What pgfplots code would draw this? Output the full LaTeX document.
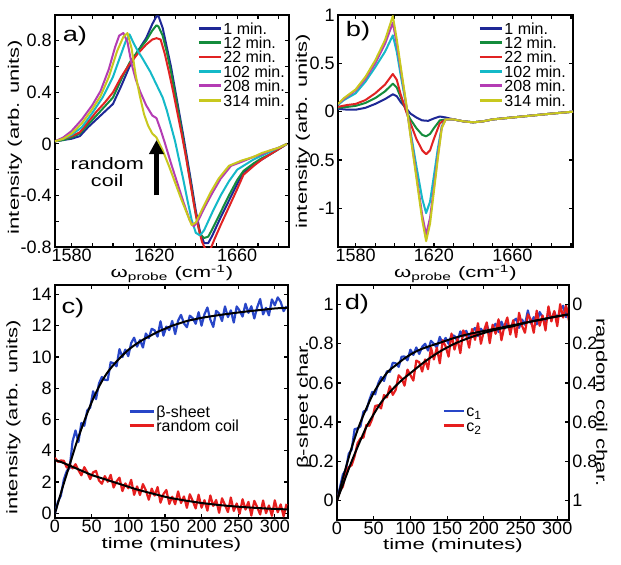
\documentclass[border=0pt]{standalone}
\usepackage{fontspec}
\setmainfont{Liberation Sans}
\newfontfamily\wfont[FakeStretch=1.45]{Liberation Sans}
\newfontfamily\pfont[FakeStretch=1.3]{Liberation Sans}
\usepackage{pgfplots}
\pgfplotsset{compat=1.18}
\usetikzlibrary{arrows.meta}
\definecolor{cB}{RGB}{30,40,150}
\definecolor{cG}{RGB}{20,140,60}
\definecolor{cR}{RGB}{225,35,35}
\definecolor{cC}{RGB}{20,185,200}
\definecolor{cM}{RGB}{180,60,180}
\definecolor{cY}{RGB}{200,200,30}
\definecolor{nB}{RGB}{40,70,200}
\definecolor{nR}{RGB}{230,30,30}
\pgfplotsset{
  myaxis/.style={
    scale only axis, anchor=south west,
    axis line style={line width=0.9pt},
    tick style={line width=0.6pt, black},
    major tick length=2.2pt, minor tick length=2.2pt,
    tick align=inside,
    /pgf/number format/assume math mode=true,
    /pgf/number format/set thousands separator={},
    tick label style={font=\fontsize{9}{9}\selectfont},
    label style={font=\wfont\fontsize{7.6}{8}\selectfont},
    xticklabel style={inner sep=1pt},
    yticklabel style={inner sep=1.5pt},
    legend cell align=left,
    legend style={draw=none, fill=none, anchor=north west, inner sep=0pt, row sep=0.2pt,
      nodes={inner sep=0.6pt, text height=5.8pt, text depth=0pt}, font=\fontsize{8}{8}\selectfont},
    every axis plot/.append style={line width=1pt, line join=round},
  },
  lim/.style={legend image code/.code={\draw[##1, line width=1.4pt] (0pt,0pt) -- (#1,0pt);}},
}
\begin{document}
\begin{tikzpicture}
\path[use as bounding box, fill=white] (0,0) rectangle (310.5pt,282pt);
% ---------------- a ----------------
\begin{axis}[myaxis, at={(27.5pt,158.5pt)}, width=117pt, height=116pt,
  xmin=1572, xmax=1685, ymin=-0.8, ymax=1.0,
  xtick={1580,1620,1660}, minor xtick={1590,1600,1610,1630,1640,1650,1670,1680},
  ytick={-0.8,-0.4,0,0.4,0.8}, minor ytick={-0.6,-0.2,0.2,0.6},
  xlabel={ω\textsubscript{probe} (cm\textsuperscript{-1})},
  ylabel={intensity (arb. units)},
  xlabel style={at={(axis description cs:0.5,-0.115)},anchor=center},
  ylabel style={at={(axis description cs:-0.171,0.474)},anchor=center},
  legend style={at={(axis description cs:0.607,0.975)}}, lim=11pt]
\addplot[cB] coordinates {(1572,0.02)(1576,0.03)(1580,0.04)(1584,0.06)(1588,0.13)(1592,0.19)(1596,0.25)(1600,0.31)(1604,0.45)(1608,0.6)(1612,0.72)(1616,0.82)(1619,0.93)(1621,0.99)(1622,0.99)(1624,0.9)(1626,0.75)(1628,0.6)(1630,0.42)(1632,0.24)(1634,0.06)(1636,-0.13)(1638,-0.32)(1640,-0.52)(1642,-0.68)(1644,-0.77)(1646,-0.77)(1648,-0.71)(1652,-0.57)(1656,-0.44)(1660,-0.31)(1663,-0.22)(1668,-0.16)(1672,-0.12)(1676,-0.08)(1680,-0.04)(1684,0)};
\addplot[cG] coordinates {(1572,0.02)(1576,0.03)(1580,0.05)(1584,0.08)(1588,0.15)(1592,0.22)(1596,0.29)(1600,0.36)(1604,0.5)(1608,0.63)(1612,0.72)(1616,0.8)(1619,0.88)(1621,0.92)(1622,0.91)(1624,0.84)(1626,0.71)(1628,0.56)(1630,0.39)(1632,0.21)(1634,0.03)(1636,-0.16)(1638,-0.35)(1640,-0.55)(1642,-0.7)(1644,-0.73)(1646,-0.72)(1648,-0.66)(1652,-0.53)(1656,-0.4)(1660,-0.28)(1663,-0.21)(1668,-0.15)(1672,-0.11)(1676,-0.08)(1680,-0.04)(1684,0)};
\addplot[cR] coordinates {(1572,0.02)(1576,0.04)(1580,0.06)(1584,0.09)(1588,0.17)(1592,0.25)(1596,0.32)(1600,0.4)(1604,0.52)(1608,0.62)(1612,0.7)(1616,0.77)(1619,0.81)(1621,0.82)(1623,0.81)(1625,0.7)(1627,0.56)(1629,0.41)(1631,0.25)(1633,0.09)(1635,-0.08)(1637,-0.27)(1639,-0.46)(1641,-0.63)(1643,-0.76)(1645,-0.83)(1647,-0.82)(1649,-0.74)(1652,-0.63)(1656,-0.49)(1660,-0.35)(1663,-0.24)(1668,-0.17)(1672,-0.12)(1676,-0.08)(1680,-0.04)(1684,0)};
\addplot[cC] coordinates {(1572,0.02)(1576,0.04)(1580,0.07)(1585,0.13)(1590,0.24)(1595,0.36)(1600,0.52)(1604,0.7)(1606,0.79)(1608,0.85)(1610,0.78)(1612,0.72)(1614,0.67)(1618,0.56)(1621,0.46)(1624,0.36)(1626,0.26)(1628,0.14)(1630,0.02)(1632,-0.13)(1634,-0.28)(1636,-0.44)(1638,-0.59)(1640,-0.69)(1642,-0.71)(1644,-0.67)(1648,-0.53)(1652,-0.4)(1656,-0.29)(1660,-0.2)(1664,-0.16)(1668,-0.12)(1672,-0.09)(1676,-0.06)(1680,-0.03)(1684,0)};
\addplot[cM] coordinates {(1572,0.02)(1576,0.05)(1580,0.1)(1585,0.19)(1590,0.3)(1594,0.41)(1598,0.58)(1601,0.75)(1603,0.84)(1605,0.86)(1607,0.79)(1609,0.62)(1611,0.5)(1613,0.41)(1616,0.3)(1619,0.22)(1621,0.2)(1623,0.11)(1625,0.01)(1628,-0.15)(1631,-0.3)(1634,-0.45)(1637,-0.59)(1639,-0.64)(1641,-0.6)(1644,-0.5)(1648,-0.38)(1652,-0.27)(1657,-0.17)(1662,-0.14)(1668,-0.1)(1672,-0.08)(1676,-0.05)(1680,-0.03)(1684,0)};
\addplot[cY] coordinates {(1572,0.02)(1576,0.04)(1580,0.08)(1585,0.16)(1590,0.27)(1594,0.37)(1598,0.52)(1602,0.72)(1605,0.83)(1607,0.86)(1609,0.74)(1611,0.53)(1613,0.37)(1615,0.23)(1617,0.14)(1619,0.08)(1621,0.05)(1624,-0.05)(1627,-0.17)(1630,-0.3)(1633,-0.43)(1636,-0.55)(1638,-0.63)(1640,-0.61)(1643,-0.51)(1647,-0.38)(1651,-0.27)(1656,-0.17)(1662,-0.13)(1668,-0.1)(1672,-0.07)(1676,-0.05)(1680,-0.03)(1684,0)};
\legend{1 min.,12 min.,22 min.,102 min.,208 min.,314 min.}
\node[font=\pfont\fontsize{10.5}{10}\selectfont] at (axis description cs:0.085,0.91) {a)};
\node[font=\pfont\fontsize{8.3}{8.5}\selectfont, align=center] at (axis cs:1597.2,-0.22) {random\\coil};
\draw[line width=2.2pt, -{Triangle[length=7pt,width=7pt]}] (axis cs:1621,-0.4) -- (axis cs:1621,0.03);
\end{axis}
% ---------------- b ----------------
\begin{axis}[myaxis, at={(169pt,158.5pt)}, width=117.5pt, height=116pt,
  xmin=1571, xmax=1691, ymin=-1.4, ymax=1.0,
  xtick={1580,1620,1660}, minor xtick={1590,1600,1610,1630,1640,1650,1670,1680,1690},
  ytick={-1,-0.5,0,0.5,1},
  xlabel={ω\textsubscript{probe} (cm\textsuperscript{-1})},
  ylabel={intensity (arb. units)},
  xlabel style={at={(axis description cs:0.5,-0.115)},anchor=center},
  ylabel style={at={(axis description cs:-0.149,0.5)},anchor=center},
  legend style={at={(axis description cs:0.596,0.975)}}, lim=11pt]
\addplot[cB] coordinates {(1571,0.03)(1576,0.02)(1580,0.02)(1585,0.04)(1590,0.08)(1595,0.13)(1599,0.18)(1601,0.16)(1603,0.1)(1606,0.03)(1608,-0.02)(1611,-0.06)(1614,-0.09)(1617,-0.095)(1620,-0.07)(1623,-0.05)(1626,-0.06)(1630,-0.08)(1635,-0.1)(1640,-0.11)(1645,-0.1)(1650,-0.08)(1660,-0.06)(1670,-0.04)(1680,-0.02)(1691,0)};
\addplot[cG] coordinates {(1571,0.04)(1576,0.05)(1580,0.06)(1585,0.09)(1590,0.14)(1595,0.21)(1599,0.29)(1601,0.25)(1603,0.15)(1606,0.0)(1608,-0.08)(1611,-0.17)(1614,-0.24)(1616,-0.255)(1618,-0.23)(1620,-0.17)(1623,-0.09)(1626,-0.08)(1630,-0.08)(1635,-0.1)(1640,-0.11)(1645,-0.1)(1650,-0.08)(1660,-0.06)(1670,-0.04)(1680,-0.02)(1691,0)};
\addplot[cR] coordinates {(1571,0.05)(1576,0.07)(1580,0.08)(1585,0.12)(1590,0.19)(1595,0.28)(1599,0.39)(1601,0.33)(1603,0.18)(1606,-0.01)(1608,-0.12)(1611,-0.28)(1614,-0.4)(1616,-0.44)(1618,-0.4)(1620,-0.28)(1623,-0.12)(1626,-0.08)(1630,-0.08)(1635,-0.1)(1640,-0.11)(1645,-0.1)(1650,-0.08)(1660,-0.06)(1670,-0.04)(1680,-0.02)(1691,0)};
\addplot[cC] coordinates {(1571,0.07)(1574,0.12)(1580,0.19)(1585,0.31)(1590,0.46)(1595,0.62)(1599,0.79)(1601,0.62)(1603,0.38)(1606,0.04)(1608,-0.2)(1611,-0.56)(1614,-0.9)(1616,-1.05)(1618,-0.93)(1620,-0.66)(1622,-0.38)(1624,-0.15)(1626,-0.08)(1630,-0.08)(1635,-0.1)(1640,-0.11)(1645,-0.1)(1650,-0.08)(1660,-0.06)(1670,-0.04)(1680,-0.02)(1691,0)};
\addplot[cM] coordinates {(1571,0.08)(1574,0.13)(1580,0.22)(1585,0.34)(1590,0.5)(1595,0.7)(1599,0.92)(1601,0.7)(1603,0.44)(1606,0.05)(1608,-0.23)(1611,-0.65)(1614,-1.07)(1616,-1.27)(1618,-1.1)(1620,-0.78)(1622,-0.45)(1624,-0.16)(1626,-0.08)(1630,-0.08)(1635,-0.1)(1640,-0.11)(1645,-0.1)(1650,-0.08)(1660,-0.06)(1670,-0.04)(1680,-0.02)(1691,0)};
\addplot[cY] coordinates {(1571,0.08)(1574,0.14)(1580,0.23)(1585,0.36)(1590,0.53)(1595,0.74)(1599,0.99)(1601,0.75)(1603,0.47)(1606,0.06)(1608,-0.25)(1611,-0.68)(1614,-1.12)(1616,-1.34)(1618,-1.16)(1620,-0.82)(1622,-0.48)(1624,-0.17)(1626,-0.08)(1630,-0.08)(1635,-0.1)(1640,-0.11)(1645,-0.1)(1650,-0.08)(1660,-0.06)(1670,-0.04)(1680,-0.02)(1691,0)};
\legend{1 min.,12 min.,22 min.,102 min.,208 min.,314 min.}
\node[font=\pfont\fontsize{10.5}{10}\selectfont] at (axis description cs:0.085,0.93) {b)};
\end{axis}
% ---------------- c ----------------
\begin{axis}[myaxis, at={(27.5pt,23pt)}, width=116.5pt, height=116.5pt,
  xmin=0, xmax=318, ymin=-0.3, ymax=14.6,
  xtick={0,50,100,150,200,250,300}, ytick={0,2,4,6,8,10,12,14},
  xlabel={time (minutes)}, ylabel={intensity (arb. units)},
  xlabel style={at={(axis description cs:0.5,-0.112)},anchor=center},
  ylabel style={at={(axis description cs:-0.178,0.433)},anchor=center},
  legend style={at={(axis description cs:0.313,0.49)}}, lim=12pt]
\addplot[nB, line width=1.1pt] coordinates {(0,0)(4,0.74)(8,1.13)(12,2.15)(16,2.7)(20,2.9)(24,4.6)(28,5.3)(32,4.56)(36,5.78)(40,5.6)(44,6.58)(48,6.76)(52,7.8)(56,7.3)(60,8.3)(64,8.72)(68,8.54)(72,8.52)(76,9.66)(80,9.6)(84,9.4)(88,10.5)(92,9.99)(96,10.47)(100,10.05)(104,10.89)(108,11.23)(112,10.66)(116,11.08)(120,10.6)(124,11.5)(128,11.2)(132,11.8)(136,11.7)(140,11.3)(144,12.28)(148,11.36)(152,11.94)(156,11.72)(160,12.3)(164,11.46)(168,12.32)(172,12.69)(176,12.14)(180,11.9)(184,12.64)(188,12.48)(192,12.12)(196,12.86)(200,12.0)(204,12.73)(208,13.16)(212,12.39)(216,11.92)(220,12.95)(224,12.78)(228,12.3)(232,13.23)(236,12.55)(240,12.98)(244,12.2)(248,13.23)(252,12.95)(256,12.58)(260,13.4)(264,12.82)(268,13.24)(272,12.46)(276,13.18)(280,13.7)(284,12.72)(288,13.14)(292,12.66)(296,13.68)(300,13.3)(304,13.81)(308,13.52)(312,12.93)(316,13.24)};
\addplot[nR, line width=1.1pt] coordinates {(0,3.55)(4,3.29)(8,3.38)(12,3.36)(16,2.93)(20,3.15)(24,2.87)(28,3.14)(32,2.76)(36,2.43)(40,2.95)(44,2.62)(48,2.19)(52,2.62)(56,2.71)(60,2.1)(64,1.89)(68,2.38)(72,2.02)(76,2.46)(80,1.65)(84,2.04)(88,2.28)(92,1.42)(96,1.91)(100,1.6)(104,2.14)(108,1.18)(112,1.72)(116,1.17)(120,1.87)(124,1.47)(128,0.87)(132,1.58)(136,1.13)(140,1.68)(144,0.68)(148,1.23)(152,1.49)(156,0.6)(160,1.06)(164,0.58)(168,1.4)(172,0.66)(176,1.08)(180,0.35)(184,1.22)(188,0.79)(192,0.31)(196,1.19)(200,0.36)(204,0.84)(208,0.17)(212,1.14)(216,0.47)(220,0.85)(224,0.03)(228,0.96)(232,0.54)(236,0.08)(240,1.01)(244,0.15)(248,0.63)(252,-0.03)(256,0.9)(260,0.24)(264,0.73)(268,-0.14)(272,0.8)(276,0.39)(280,-0.07)(284,0.82)(288,0.01)(292,0.5)(296,-0.16)(300,0.83)(304,0.07)(308,0.57)(312,-0.19)(316,0.6)};
\addplot[black, smooth, forget plot] coordinates {(0,0)(10,1.6)(20,3.1)(30,4.6)(40,5.9)(50,7.1)(60,8.1)(70,8.9)(80,9.5)(90,10.0)(100,10.45)(110,10.8)(120,11.1)(130,11.35)(140,11.6)(150,11.8)(160,12.0)(170,12.15)(180,12.3)(190,12.4)(200,12.5)(220,12.65)(240,12.78)(260,12.9)(280,13.0)(300,13.1)(318,13.15)};
\addplot[black, smooth, forget plot] coordinates {(0,3.4)(10,3.25)(20,3.05)(30,2.85)(40,2.65)(50,2.45)(60,2.3)(70,2.15)(80,2.0)(90,1.85)(100,1.7)(110,1.55)(120,1.42)(130,1.3)(140,1.18)(150,1.06)(160,0.96)(170,0.88)(180,0.8)(190,0.73)(200,0.66)(220,0.55)(240,0.46)(260,0.39)(280,0.33)(300,0.28)(318,0.25)};
\legend{β-sheet,random coil}
\node[font=\pfont\fontsize{10.5}{10}\selectfont] at (axis description cs:0.077,0.90) {c)};
\end{axis}
% ---------------- d ----------------
\begin{axis}[myaxis, at={(168.5pt,22pt)}, width=116pt, height=117.5pt,
  xmin=0, xmax=316, ymin=-0.1, ymax=1.1, ytick pos=left,
  xtick={0,50,100,150,200,250,300}, ytick={0,0.2,0.4,0.6,0.8,1},
  xlabel={time (minutes)}, ylabel={β-sheet char.},
  xlabel style={at={(axis description cs:0.5,-0.108)},anchor=center},
  ylabel style={at={(axis description cs:-0.142,0.49)},anchor=center},
  legend style={at={(axis description cs:0.453,0.495)}}, lim=10pt]
\addplot[nB, line width=1.1pt] coordinates {(0,0)(4,0.066)(8,0.132)(12,0.156)(16,0.238)(20,0.26)(24,0.364)(28,0.368)(32,0.378)(36,0.454)(40,0.46)(44,0.512)(48,0.554)(52,0.542)(56,0.596)(60,0.63)(64,0.61)(68,0.66)(72,0.656)(76,0.703)(80,0.70)(84,0.682)(88,0.734)(92,0.735)(96,0.715)(100,0.77)(104,0.743)(108,0.781)(112,0.748)(116,0.784)(120,0.80)(124,0.765)(128,0.815)(132,0.80)(136,0.78)(140,0.835)(144,0.80)(148,0.83)(152,0.80)(156,0.845)(160,0.84)(164,0.814)(168,0.863)(172,0.837)(176,0.866)(180,0.83)(184,0.863)(188,0.881)(192,0.839)(196,0.877)(200,0.855)(204,0.898)(208,0.851)(212,0.884)(216,0.902)(220,0.86)(224,0.913)(228,0.876)(232,0.904)(236,0.867)(240,0.915)(244,0.928)(248,0.881)(252,0.924)(256,0.897)(260,0.97)(264,0.903)(268,0.936)(272,0.899)(276,0.962)(280,0.935)(284,0.908)(288,0.961)(292,0.924)(296,0.962)(300,0.925)(304,0.972)(308,0.994)(312,0.936)(316,0.988)};
\addplot[nR, line width=1.1pt] coordinates {(0,0)(4,0.05)(8,0.07)(12,0.14)(16,0.17)(20,0.18)(24,0.226)(28,0.292)(32,0.317)(36,0.321)(40,0.385)(44,0.381)(48,0.417)(52,0.482)(56,0.486)(60,0.47)(64,0.538)(68,0.526)(72,0.583)(76,0.539)(80,0.565)(84,0.639)(88,0.623)(92,0.586)(96,0.668)(100,0.64)(104,0.612)(108,0.714)(112,0.706)(116,0.658)(120,0.72)(124,0.67)(128,0.78)(132,0.72)(136,0.78)(140,0.70)(144,0.818)(148,0.786)(152,0.734)(156,0.852)(160,0.77)(164,0.826)(168,0.752)(172,0.868)(176,0.844)(180,0.78)(184,0.875)(188,0.82)(192,0.905)(196,0.80)(200,0.865)(204,0.909)(208,0.803)(212,0.897)(216,0.851)(220,0.925)(224,0.818)(228,0.891)(232,0.934)(236,0.847)(240,0.92)(244,0.834)(248,0.958)(252,0.892)(256,0.856)(260,0.95)(264,0.923)(268,0.856)(272,0.969)(276,0.892)(280,0.945)(284,0.868)(288,0.991)(292,0.914)(296,0.967)(300,0.89)(304,1.002)(308,0.934)(312,0.996)(316,0.918)};
\addplot[black, smooth, forget plot] coordinates {(0,0)(10,0.14)(20,0.27)(30,0.38)(40,0.47)(50,0.55)(60,0.61)(70,0.66)(80,0.69)(90,0.72)(100,0.745)(110,0.765)(120,0.78)(140,0.805)(160,0.83)(180,0.85)(200,0.865)(220,0.88)(240,0.895)(260,0.91)(280,0.925)(300,0.94)(316,0.95)};
\addplot[black, smooth, forget plot] coordinates {(0,0)(10,0.1)(20,0.2)(30,0.29)(40,0.375)(50,0.44)(60,0.5)(70,0.545)(80,0.585)(90,0.62)(100,0.65)(120,0.71)(140,0.76)(160,0.8)(180,0.83)(200,0.855)(220,0.875)(240,0.89)(260,0.91)(280,0.925)(300,0.94)(316,0.95)};
\legend{c\textsubscript{1},c\textsubscript{2}}
\node[font=\pfont\fontsize{10.5}{10}\selectfont] at (axis description cs:0.086,0.92) {d)};
\end{axis}
\begin{axis}[myaxis, at={(168.5pt,22pt)}, width=116pt, height=117.5pt,
  xmin=0, xmax=316, ymin=-0.1, ymax=1.1, y dir=reverse,
  axis x line=none, axis y line*=right, tick align=inside,
  ytick={0,0.2,0.4,0.6,0.8,1},
  ylabel={random coil char.},
  ylabel style={at={(axis description cs:1.141,0.5)},anchor=center,rotate=180}]
\addplot[draw=none] coordinates {(0,0.5)};
\end{axis}
\end{tikzpicture}
\end{document}
